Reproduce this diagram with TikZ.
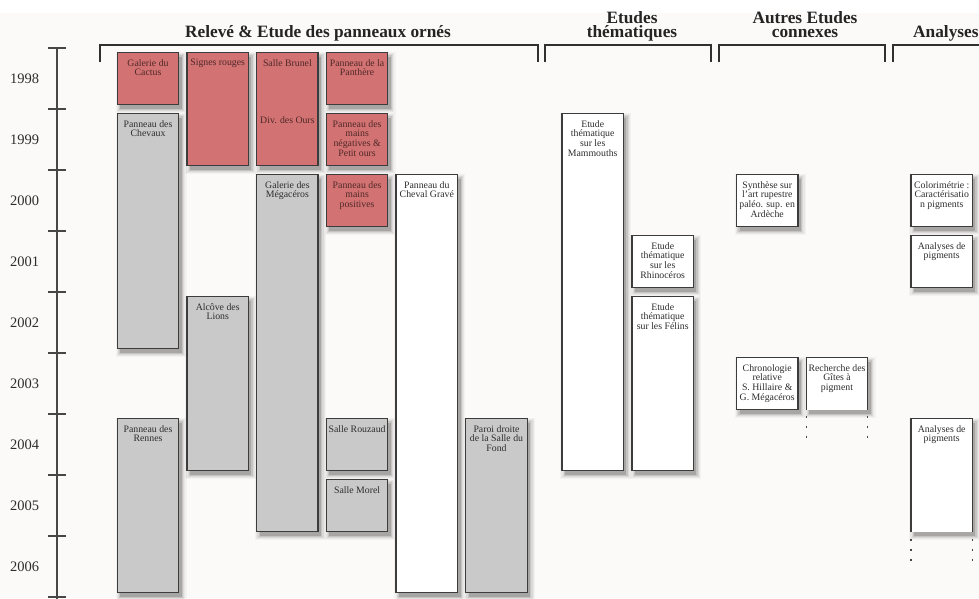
\documentclass[tikz,border=0pt]{standalone}
\usepackage{fontspec}
\setmainfont{Liberation Serif}
\definecolor{bg}{RGB}{252,250,249}
\definecolor{boxred}{RGB}{210,114,114}
\definecolor{boxgray}{RGB}{201,201,201}
\definecolor{bord}{RGB}{60,60,60}
\definecolor{redtxt}{RGB}{80,40,40}
\definecolor{txt}{RGB}{45,45,45}
\definecolor{axcol}{RGB}{70,70,70}
\pgfdeclarelayer{bgl}
\pgfdeclarelayer{shadow}
\pgfsetlayers{bgl,shadow,main}
\tikzset{
  basebox/.style={line width=1.3pt, minimum width=61.4pt, inner sep=0pt, outer sep=0pt},
  redbox/.style={basebox, draw=bord, fill=boxred},
  graybox/.style={basebox, draw=bord, fill=boxgray},
  whitebox/.style={basebox, draw=bord, fill=white},
  openbox/.style={basebox, draw=none, fill=white},
  redlbl/.style={text=redtxt, font=\fontsize{9.8}{9.9}\selectfont, align=center, inner sep=0pt, anchor=north},
  lbl/.style={text=txt, font=\fontsize{9.8}{9.9}\selectfont, align=center, inner sep=0pt, anchor=north},
  yr/.style={text=txt, font=\fontsize{14.5}{15}\selectfont, inner sep=0pt},
  ttl/.style={text=txt!80!black, font=\fontsize{17.3}{13}\selectfont\bfseries, inner sep=0pt, anchor=base},
  brk/.style={draw=bord!80!black, line width=2pt},
  axis/.style={draw=axcol, line width=1.1pt},
  dots/.style={draw=axcol, line width=1.2pt, dash pattern=on 2pt off 8pt},
  openside/.style={draw=bord, line width=1.3pt}
}
% #1 name, #2 x left, #3 top, #4 bottom, #5 box style, #6 label style, #7 text
\newcommand\bx[7]{%
  \begin{pgfonlayer}{shadow}
    \foreach \sE/\sO in {0/0.15,1.2/0.09,2.4/0.06,3.6/0.045,4.8/0.03}{
      \fill[black,fill opacity=\sO] ({#2+3-\sE},{#3+4-\sE}) rectangle ({#2+61.4+3+\sE},{#4+4+\sE});
    }
  \end{pgfonlayer}
  \node[#5, minimum height={(#4)-(#3)}, anchor=north west] (#1) at (#2,#3) {};
  \node[#6] (#1-l) at ([yshift=-6.5pt]#1.north) {#7};
}
\begin{document}
\begin{tikzpicture}[x=1pt,y=-1pt]
\useasboundingbox (0,0) rectangle (979,598);
\clip (0,0) rectangle (979,598);
\begin{pgfonlayer}{bgl}
  \fill[bg] (0,0) rectangle (979,598);
  \fill[white] (0,0) rectangle (979,13);
\end{pgfonlayer}

% titles
\node[ttl] (t1) at (318,37.5) {Relevé \& Etude des panneaux ornés};
\node[ttl] (t2a) at (632,23.2) {Etudes};
\node[ttl] (t2b) at (632,37.5) {thématiques};
\node[ttl] (t3a) at (805,23.2) {Autres Etudes};
\node[ttl] (t3b) at (805,37.5) {connexes};
\node[ttl, anchor=base west] (t4) at (913,37.5) {Analyses};

% brackets
\draw[brk] (100,62) -- (100,45) -- (538,45) -- (538,62);
\draw[brk] (545,62) -- (545,45) -- (711,45) -- (711,62);
\draw[brk] (719,62) -- (719,45) -- (885,45) -- (885,62);
\draw[brk] (893,62) -- (893,45) -- (990,45);

% time axis
\coordinate (axtop) at (57,48);
\coordinate (axbot) at (57,600);
\draw[axis] (axtop) -- (axbot);
\foreach \k in {0,...,9}{
  \draw[axis] (48,{48+61*\k}) -- (66,{48+61*\k});
}
\foreach \yy [count=\i from 0] in {1998,1999,2000,2001,2002,2003,2004,2005,2006}{
  \node[yr] (y\yy) at (24.5,{78.5+61*\i}) {\yy};
}

% column 1
\bx{cactus}{117.3}{52.5}{104.5}{redbox}{redlbl}{Galerie du\\Cactus}
\bx{chevaux}{117.3}{113.5}{348.5}{graybox}{lbl}{Panneau des\\Chevaux}
\bx{rennes}{117.3}{418.5}{592.5}{graybox}{lbl}{Panneau des\\Rennes}
% column 2
\bx{signes}{187.0}{52.5}{165.5}{redbox}{redlbl}{Signes rouges}
\bx{lions}{187.0}{296.5}{470.5}{graybox}{lbl}{Alcôve des\\Lions}
% column 3
\bx{brunel}{256.7}{52.5}{165.5}{redbox}{redlbl}{Salle Brunel}
\node[redlbl] (ours-l) at ([yshift=-64pt]brunel.north) {Div. des Ours};
\bx{megaceros}{256.7}{174.5}{531.5}{graybox}{lbl}{Galerie des\\Mégacéros}
% column 4
\bx{panthere}{326.4}{52.5}{104.5}{redbox}{redlbl}{Panneau de la\\Panthère}
\bx{negatives}{326.4}{113.5}{165.5}{redbox}{redlbl}{Panneau des\\mains\\négatives \&\\Petit ours}
\bx{positives}{326.4}{174.5}{226.5}{redbox}{redlbl}{Panneau des\\mains\\positives}
\bx{rouzaud}{326.4}{418.5}{470.5}{graybox}{lbl}{Salle Rouzaud}
\bx{morel}{326.4}{479.5}{531.5}{graybox}{lbl}{Salle Morel}
% column 5 and 6
\bx{grave}{396.1}{174.5}{592.5}{whitebox}{lbl}{Panneau du\\Cheval Gravé}
\bx{paroi}{465.8}{418.5}{592.5}{graybox}{lbl}{Paroi droite\\de la Salle du\\Fond}

% Etudes thematiques
\bx{mammouths}{562.0}{113.5}{470.5}{whitebox}{lbl}{Etude\\thématique\\sur les\\Mammouths}
\bx{rhino}{632.0}{235.5}{287.5}{whitebox}{lbl}{Etude\\thématique\\sur les\\Rhinocéros}
\bx{felins}{632.0}{296.5}{470.5}{whitebox}{lbl}{Etude\\thématique\\sur les Félins}

% Autres etudes connexes
\bx{synthese}{736.5}{174.5}{226.5}{whitebox}{lbl}{Synthèse sur\\l'art rupestre\\paléo. sup. en\\Ardèche}
\bx{chrono}{736.5}{357.5}{409.5}{whitebox}{lbl}{Chronologie\\relative\\S. Hillaire \&\\G. Mégacéros}
\bx{gites}{806.3}{357.5}{409.5}{openbox}{lbl}{Recherche des\\Gîtes à\\pigment}
\draw[openside] (gites.south west) -- (gites.north west) -- (gites.north east) -- (gites.south east);
\draw[dots] ([yshift=-6pt]gites.south west) -- ([yshift=-30pt]gites.south west);
\draw[dots] ([yshift=-6pt]gites.south east) -- ([yshift=-30pt]gites.south east);

% Analyses
\bx{colori}{911.0}{174.5}{226.5}{whitebox}{lbl}{Colorimétrie :\\Caractérisatio\\n pigments}
\bx{pigA}{911.0}{235.5}{287.5}{whitebox}{lbl}{Analyses de\\pigments}
\bx{pigB}{911.0}{418.5}{531.5}{openbox}{lbl}{Analyses de\\pigments}
\draw[openside] (pigB.south west) -- (pigB.north west) -- (pigB.north east) -- (pigB.south east);
\draw[dots] ([yshift=-7pt]pigB.south west) -- ([yshift=-31pt]pigB.south west);
\draw[dots] ([yshift=-7pt]pigB.south east) -- ([yshift=-31pt]pigB.south east);
\end{tikzpicture}
\end{document}
